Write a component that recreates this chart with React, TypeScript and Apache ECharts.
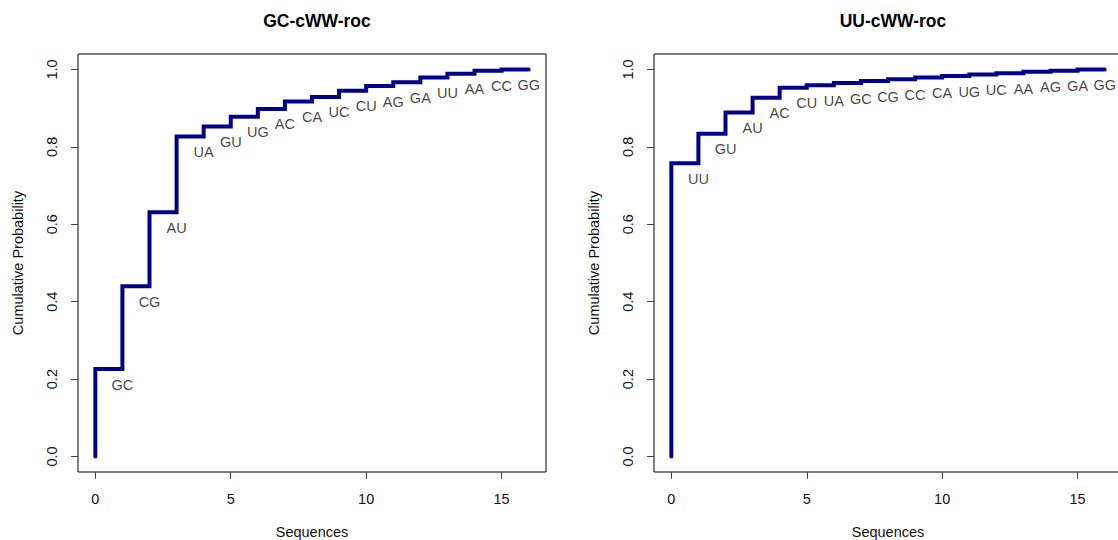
import React, { useEffect, useRef } from "react";
import * as echarts from "echarts";

const xTicks = [0, 5, 10, 15];
const yTicks = [0, 0.2, 0.4, 0.6, 0.8, 1.0];

const gcTitle = "GC-cWW-roc";
const gcLabels = ["GC", "CG", "AU", "UA", "GU", "UG", "AC", "CA", "UC", "CU", "AG", "GA", "UU", "AA", "CC", "GG"];
const gcValues = [0.226, 0.44, 0.631, 0.827, 0.853, 0.878, 0.898, 0.917, 0.929, 0.945, 0.957, 0.967, 0.979, 0.989, 0.997, 1.0];

const uuTitle = "UU-cWW-roc";
const uuLabels = ["UU", "GU", "AU", "AC", "CU", "UA", "GC", "CG", "CC", "CA", "UG", "UC", "AA", "AG", "GA", "GG"];
const uuValues = [0.758, 0.834, 0.889, 0.927, 0.953, 0.959, 0.965, 0.97, 0.975, 0.979, 0.983, 0.987, 0.99, 0.994, 0.997, 1.0];

const FONT = "'Liberation Sans', Arial, sans-serif";
const TXT = "#111";
const FS = 14.5;

export default function App() {
  const ref = useRef<HTMLDivElement>(null);
  useEffect(() => {
    if (!ref.current) return;
    const chart = echarts.init(ref.current, undefined, { renderer: "svg" });
    const panels = [
      { title: gcTitle, labels: gcLabels, values: gcValues, left: 78 },
      { title: uuTitle, labels: uuLabels, values: uuValues, left: 654 },
    ];
    const W = 468;
    const H = 418;
    const option: any = {
      animation: false,
      backgroundColor: "#fff",
      title: panels.map((p) => ({
        text: p.title,
        left: p.left + W / 2,
        top: 7,
        textAlign: "center",
        textStyle: { fontSize: 17.5, fontWeight: "bold", color: "#000", fontFamily: FONT },
      })),
      grid: panels.map((p) => ({
        left: p.left,
        top: 54,
        width: W,
        height: H,
        containLabel: false,
        outerBoundsMode: "none",
        show: true,
        borderColor: "#000",
        borderWidth: 1,
        backgroundColor: "transparent",
      })),
      xAxis: panels.map((p, i) => ({
        gridIndex: i,
        type: "value",
        position: "bottom",
        min: -0.64,
        max: 16.64,
        axisLine: { show: false, onZero: false },
        splitLine: { show: false },
        axisTick: { show: true, length: 7, customValues: xTicks, lineStyle: { color: "#444", width: 1 } },
        axisLabel: { customValues: xTicks, margin: 19, fontSize: FS, color: TXT, fontFamily: FONT },
        name: "Sequences",
        nameLocation: "middle",
        nameGap: 52,
        nameMoveOverlap: false,
        nameTextStyle: { fontSize: FS, color: TXT, fontFamily: FONT },
      })),
      yAxis: panels.map((p, i) => ({
        gridIndex: i,
        type: "value",
        position: "left",
        min: -0.04,
        max: 1.04,
        axisLine: { show: false, onZero: false },
        splitLine: { show: false },
        axisTick: { show: true, length: 7, customValues: yTicks, lineStyle: { color: "#444", width: 1 } },
        axisLabel: {
          customValues: yTicks,
          rotate: 90,
          margin: 19,
          fontSize: FS,
          color: TXT,
          fontFamily: FONT,
          formatter: (v: number) => v.toFixed(1),
        },
        name: "Cumulative Probability",
        nameLocation: "middle",
        nameRotate: 90,
        nameGap: 53,
        nameMoveOverlap: false,
        nameTextStyle: { fontSize: FS, color: TXT, fontFamily: FONT },
      })),
      series: panels.flatMap((p, i) => [
        {
          type: "line",
          xAxisIndex: i,
          yAxisIndex: i,
          step: "start",
          showSymbol: false,
          symbol: "none",
          lineStyle: { color: "#00008B", width: 4, cap: "round", join: "miter" },
          data: [[0, 0], ...p.values.map((v, k) => [k + 1, v])],
          silent: true,
        },
        {
          type: "scatter",
          xAxisIndex: i,
          yAxisIndex: i,
          symbolSize: 0,
          silent: true,
          data: p.values.map((v, k) => [k + 1, v, p.labels[k]]),
          label: {
            show: true,
            position: "bottom",
            distance: 8,
            fontSize: FS,
            color: TXT,
            fontFamily: FONT,
            formatter: (q: any) => q.data[2],
          },
        },
      ]),
    };
    chart.setOption(option);
    return () => chart.dispose();
  }, []);
  return (
    <div
      ref={ref}
      style={{ position: "fixed", left: 0, top: 0, width: 1118, height: 540 }}
    />
  );
}
